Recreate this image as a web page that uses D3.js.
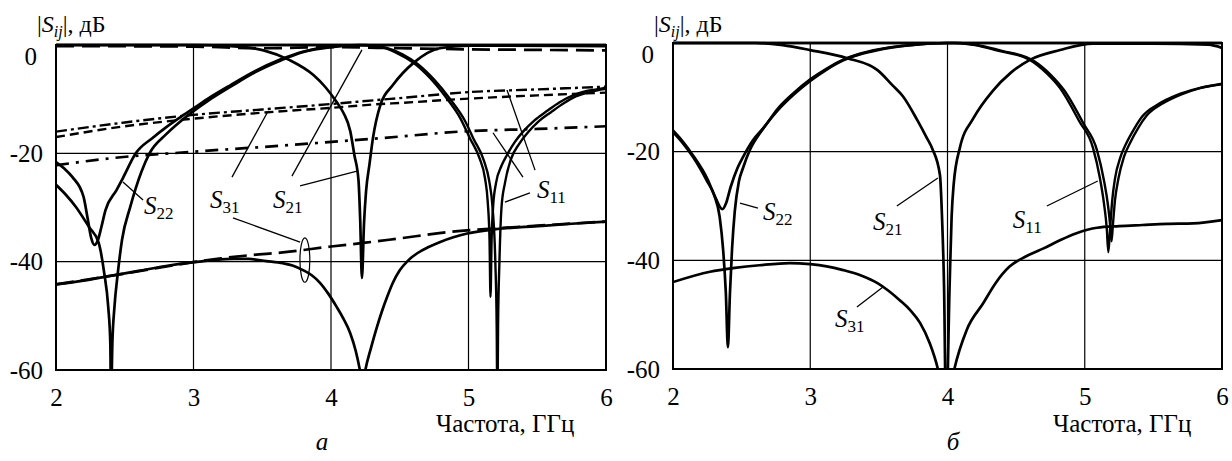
<!DOCTYPE html>
<html>
<head>
<meta charset="utf-8">
<script src="https://cdn.jsdelivr.net/npm/d3@7"></script>
<style>
  body { margin: 0; background: #fff; }
  svg { display: block; }
</style>
</head>
<body>
<svg id="chart" width="1232" height="461"></svg>
<script>
const freqTicks = [2, 3, 4, 5, 6];
const dbTicks = [0, -20, -40, -60];

// panel а — [GHz, dB]
const aS22shallow = [[2.0,-21.6],[2.06,-22.8],[2.12,-24.4],[2.2,-28],[2.23,-32],[2.255,-35.5],[2.28,-36.9],[2.305,-36],[2.33,-33.6],[2.36,-30.5],[2.44,-26.8],[2.49,-24.4],[2.58,-20],[2.7,-17.2],[2.8,-15.2],[2.9,-13.4],[3.0,-11.7],[3.1,-10],[3.27,-7.4],[3.45,-4.8],[3.63,-2.7],[3.8,-1.2],[3.99,-0.3],[4.2,0],[6.0,0]];
const aS22sharp = [[2.0,-25.8],[2.07,-27.6],[2.145,-29.9],[2.24,-33.6],[2.31,-36.5],[2.35,-42],[2.38,-48.4],[2.395,-55],[2.40,-66],[2.41,-55],[2.425,-48.4],[2.45,-42],[2.48,-36],[2.54,-29.9],[2.62,-23.5],[2.68,-20],[2.8,-16.5],[2.9,-14.2],[3.0,-12.2],[3.1,-10.4],[3.27,-7.7],[3.45,-5],[3.63,-2.9],[3.8,-1.3],[4.0,-0.4],[4.25,0],[6.0,0]];
const aS21 = [[2.0,0],[3.0,0],[3.27,-0.2],[3.51,-1.0],[3.70,-2.8],[3.87,-5.5],[3.96,-7.8],[4.04,-10.5],[4.09,-12.5],[4.14,-15.9],[4.17,-20.3],[4.20,-25],[4.212,-32],[4.225,-43],[4.24,-33],[4.255,-27],[4.28,-22],[4.305,-17.2],[4.36,-11],[4.45,-7.4],[4.6,-3.3],[4.79,-0.6],[5.0,-0.1],[6.0,-0.2]];
const aS21dash = [[2.0,-0.2],[3.0,-0.3],[3.5,-0.6],[4.0,-0.4],[4.5,-0.6],[5.0,-0.8],[5.5,-0.9],[6.0,-1.0]];
const aS11one = [[2.0,0],[4.2,0],[4.36,-0.4],[4.48,-1.5],[4.6,-3.3],[4.72,-6.1],[4.84,-9.8],[4.94,-13.5],[5.01,-17.2],[5.08,-20.9],[5.12,-24.6],[5.14,-29],[5.153,-36],[5.16,-46.5],[5.168,-36],[5.18,-29.5],[5.2,-25.5],[5.24,-22.3],[5.28,-20.3],[5.34,-17.8],[5.4,-15.9],[5.48,-13.9],[5.57,-12.2],[5.66,-10.6],[5.76,-9.3],[5.86,-8.5],[5.93,-8.2],[6.0,-7.9]];
const aS11two = [[2.0,0],[4.25,0],[4.4,-0.5],[4.52,-1.7],[4.63,-3.5],[4.75,-6.4],[4.87,-10.1],[4.97,-13.8],[5.04,-17.5],[5.11,-21.2],[5.15,-25],[5.175,-30],[5.195,-40],[5.205,-52],[5.21,-68],[5.215,-52],[5.225,-40],[5.24,-30],[5.265,-25.5],[5.31,-21],[5.37,-18.2],[5.43,-16.2],[5.51,-14.1],[5.6,-12.4],[5.69,-10.8],[5.78,-9.5],[5.88,-8.7],[6.0,-8.1]];
const aMidUpper = [[2.0,-16],[2.5,-14.3],[3.0,-12.9],[3.5,-11.9],[4.0,-10.9],[4.36,-10.1],[4.5,-9.8],[5.0,-8.7],[5.5,-8.2],[6.0,-7.7]];
const aMidLower = [[2.0,-17],[2.5,-15],[3.0,-13.6],[3.5,-12.5],[4.0,-11.6],[4.36,-10.9],[4.5,-10.7],[5.0,-9.9],[5.5,-9.3],[6.0,-8.8]];
const aDashDot = [[2.0,-22.2],[2.4,-20.9],[3.0,-19.7],[3.63,-18.6],[4.36,-17.2],[5.0,-15.9],[5.5,-15.5],[6.0,-15.0]];
const aS31 = [[2.0,-44.2],[2.2,-43.5],[2.4,-42.6],[2.6,-41.7],[2.8,-40.8],[3.0,-40.1],[3.15,-39.7],[3.29,-39.5],[3.4,-39.5],[3.53,-39.9],[3.65,-40.3],[3.72,-40.7],[3.8,-41.6],[3.86,-42.5],[3.92,-43.9],[3.98,-45.9],[4.04,-48.3],[4.09,-50.5],[4.14,-53.2],[4.18,-56.5],[4.21,-60],[4.23,-63],[4.25,-60],[4.29,-56],[4.33,-52.4],[4.37,-49.2],[4.41,-46.4],[4.45,-43.9],[4.5,-41.6],[4.56,-39.8],[4.63,-38.4],[4.71,-37.3],[4.79,-36.4],[4.89,-35.5],[4.99,-34.8],[5.2,-34],[5.47,-33.5],[5.75,-33],[6.0,-32.6]];
const aS31dash = [[2.0,-44.2],[2.5,-42.2],[3.0,-40.1],[3.2,-39.4],[3.41,-38.8],[3.65,-38.3],[4.0,-37.2],[4.25,-36.5],[4.5,-35.7],[4.87,-34.5],[5.23,-33.8],[5.6,-33.2],[6.0,-32.6]];

// panel б
const bS22shallow = [[2.0,-16.1],[2.07,-18.1],[2.146,-20.7],[2.25,-25],[2.31,-28.5],[2.36,-30.6],[2.385,-29.6],[2.42,-26.5],[2.47,-23],[2.51,-21],[2.58,-18],[2.67,-15.3],[2.76,-12.2],[2.88,-9.2],[3.0,-6.7],[3.12,-4.7],[3.24,-3.1],[3.36,-2.0],[3.49,-1.2],[3.73,-0.4],[4.0,0],[6.0,0]];
const bS22sharp = [[2.0,-16.4],[2.07,-18.4],[2.146,-21],[2.25,-25.5],[2.30,-28],[2.34,-32],[2.365,-38],[2.385,-46],[2.40,-56],[2.415,-46],[2.43,-38],[2.45,-31],[2.48,-25.5],[2.51,-23],[2.56,-19.7],[2.65,-16],[2.76,-12.5],[2.88,-9.5],[3.0,-7],[3.12,-4.9],[3.24,-3.2],[3.36,-2.1],[3.49,-1.3],[3.73,-0.4],[4.0,0],[6.0,0]];
const bS21 = [[2.0,0],[2.6,0],[2.8,-0.4],[3.0,-1.3],[3.27,-2.8],[3.49,-5.0],[3.6,-7.8],[3.675,-9.8],[3.78,-14.2],[3.85,-17.5],[3.89,-19.5],[3.945,-24.3],[3.96,-32],[3.975,-45],[3.99,-70],[4.015,-45],[4.03,-32],[4.045,-26],[4.09,-19.3],[4.19,-13.8],[4.33,-8.8],[4.46,-5.5],[4.6,-3.1],[4.82,-1.3],[5.06,-0.1],[5.5,-0.1],[5.9,-0.3],[6.0,-0.9]];
const bS11one = [[2.0,0],[4.05,0],[4.2,-0.4],[4.35,-1.3],[4.6,-3.1],[4.72,-5.5],[4.82,-8.3],[4.96,-14.4],[5.06,-19.3],[5.11,-24.8],[5.14,-29.5],[5.16,-34],[5.172,-38.5],[5.185,-34],[5.2,-29],[5.22,-25],[5.26,-21],[5.3,-18.6],[5.36,-15.8],[5.42,-13.5],[5.54,-11.2],[5.67,-9.6],[5.82,-8.4],[6.0,-7.6]];
const bS11two = [[2.0,0],[4.09,0],[4.24,-0.5],[4.39,-1.4],[4.63,-3.3],[4.75,-5.8],[4.85,-8.7],[4.99,-14.8],[5.09,-19.8],[5.14,-25.3],[5.17,-30],[5.185,-33.5],[5.195,-36.5],[5.205,-33.5],[5.22,-29],[5.245,-25],[5.285,-21],[5.33,-18.4],[5.39,-15.6],[5.45,-13.4],[5.57,-11.1],[5.7,-9.5],[5.84,-8.3],[6.0,-7.5]];
const bS31 = [[2.0,-44],[2.27,-42.1],[2.45,-41.4],[2.63,-40.9],[2.85,-40.5],[3.0,-40.7],[3.12,-41.1],[3.24,-41.8],[3.37,-42.8],[3.49,-44.2],[3.57,-45.6],[3.65,-47.3],[3.73,-49.2],[3.8,-51.5],[3.87,-55.2],[3.93,-60],[3.99,-68],[4.05,-60],[4.14,-52.8],[4.26,-47.9],[4.35,-44.2],[4.45,-41.2],[4.57,-39.3],[4.7,-37.8],[4.82,-36.3],[4.94,-35],[5.09,-34],[5.25,-33.7],[5.42,-33.5],[5.6,-33.3],[5.79,-33.2],[6.0,-32.6]];

const FONT = 'Liberation Serif';
const svg = d3.select('#chart');

const panels = [
  {
    id: 'a', left: 56, right: 606, top: 45, bottom: 370, letter: 'а', letterX: 322,
    series: [
      { data: aMidUpper, dash: '11,4,3,4', w: 2.4 },
      { data: aMidLower, dash: '9,5', w: 2.4 },
      { data: aDashDot, dash: '13,7,3,7', w: 2.7 },
      { data: aS31dash, dash: '18,7', w: 2.7 },
      { data: aS21dash, dash: '18,8', w: 2.7 },
      { data: aS31, w: 2.7 },
      { data: aS22shallow, w: 2.7 },
      { data: aS22sharp, w: 2.7 },
      { data: aS21, w: 2.7 },
      { data: aS11one, w: 2.4 },
      { data: aS11two, w: 2.4 }
    ],
    leaders: [
      [2.487,-25.3, 2.633,-28.6],
      [3.28,-24.4, 3.535,-12.55], [3.287,-31.9, 3.775,-36.4],
      [3.716,-24.2, 4.225,-0.9], [3.775,-26.0, 4.189,-23.3],
      [5.265,-29.0, 5.447,-27.3], [5.178,-16.2, 5.396,-24.4], [5.28,-8.3, 5.484,-23.1]
    ],
    labels: [
      { f: 2.64, db: -31.2, sub: '22' },
      { f: 3.12, db: -30.1, sub: '31' },
      { f: 3.578, db: -30.1, sub: '21' },
      { f: 5.498, db: -28.2, sub: '11' }
    ],
    ellipse: { f: 3.81, db: -39.7, rf: 0.036, rdb: 4.1 }
  },
  {
    id: 'b', left: 673, right: 1222, top: 43, bottom: 369, letter: 'б', letterX: 953,
    series: [
      { data: bS31, w: 2.7 },
      { data: bS22shallow, w: 2.7 },
      { data: bS22sharp, w: 2.7 },
      { data: bS21, w: 2.7 },
      { data: bS11one, w: 2.4 },
      { data: bS11two, w: 2.4 }
    ],
    leaders: [
      [2.488,-29.45, 2.619,-30.4],
      [3.631,-30.0, 3.93,-24.85],
      [4.724,-30.0, 5.095,-25.4],
      [3.34,-48.6, 3.53,-44.9]
    ],
    labels: [
      { f: 2.655, db: -32.6, sub: '22' },
      { f: 3.457, db: -34.4, sub: '21' },
      { f: 4.476, db: -34.0, sub: '11' },
      { f: 3.18, db: -52.3, sub: '31' }
    ]
  }
];

panels.forEach(drawPanel);

function drawPanel(p) {
  const x = d3.scaleLinear().domain([2, 6]).range([p.left, p.right]);
  const y = d3.scaleLinear().domain([-60, 0]).range([p.bottom, p.top]);
  const g = svg.append('g');

  // grid
  g.append('g').selectAll('line')
    .data(freqTicks.slice(1, -1))
    .join('line')
    .attr('x1', d => x(d)).attr('x2', d => x(d))
    .attr('y1', p.top).attr('y2', p.bottom)
    .attr('stroke', '#000').attr('stroke-width', 1.2);
  g.append('g').selectAll('line')
    .data(dbTicks.slice(1, -1))
    .join('line')
    .attr('x1', p.left).attr('x2', p.right)
    .attr('y1', d => y(d)).attr('y2', d => y(d))
    .attr('stroke', '#000').attr('stroke-width', 1.2);

  svg.append('clipPath').attr('id', 'clip-' + p.id)
    .append('rect')
    .attr('x', p.left).attr('y', p.top - 3)
    .attr('width', p.right - p.left).attr('height', p.bottom - p.top + 3);

  const line = d3.line()
    .x(d => x(d[0]))
    .y(d => y(d[1]))
    .curve(d3.curveMonotoneX);

  const curves = g.append('g').attr('clip-path', `url(#clip-${p.id})`);
  p.series.forEach(s => {
    curves.append('path')
      .attr('d', line(s.data))
      .attr('fill', 'none')
      .attr('stroke', '#000')
      .attr('stroke-width', s.w)
      .attr('stroke-linejoin', 'round')
      .attr('stroke-dasharray', s.dash || null);
  });

  // frame
  g.append('rect')
    .attr('x', p.left).attr('y', p.top)
    .attr('width', p.right - p.left).attr('height', p.bottom - p.top)
    .attr('fill', 'none').attr('stroke', '#000').attr('stroke-width', 2);

  // leader lines
  g.append('g').selectAll('line')
    .data(p.leaders)
    .join('line')
    .attr('x1', d => x(d[0])).attr('y1', d => y(d[1]))
    .attr('x2', d => x(d[2])).attr('y2', d => y(d[3]))
    .attr('stroke', '#000').attr('stroke-width', 1.3);

  if (p.ellipse) {
    const e = p.ellipse;
    g.append('ellipse')
      .attr('cx', x(e.f)).attr('cy', y(e.db))
      .attr('rx', x(e.f + e.rf) - x(e.f))
      .attr('ry', y(e.db - e.rdb) - y(e.db))
      .attr('fill', 'none').attr('stroke', '#000').attr('stroke-width', 1.2);
  }

  // S labels
  p.labels.forEach(l => {
    const t = g.append('text')
      .attr('x', x(l.f)).attr('y', y(l.db))
      .attr('font-family', FONT)
      .attr('font-size', 25);
    t.append('tspan').attr('font-style', 'italic').text('S');
    t.append('tspan').attr('font-size', 17).attr('dy', 5).text(l.sub);
  });

  // axes
  const xAxis = g.append('g')
    .attr('transform', `translate(0,${p.bottom})`)
    .call(d3.axisBottom(x).tickValues(freqTicks).tickSize(0).tickPadding(18).tickFormat(d => String(d)));
  xAxis.select('.domain').remove();
  xAxis.attr('font-family', FONT);
  xAxis.selectAll('text').attr('font-family', FONT).attr('font-size', 25).attr('fill', '#000');

  const yAxis = g.append('g')
    .attr('transform', `translate(${p.left},0)`)
    .call(d3.axisLeft(y).tickValues(dbTicks).tickSize(0).tickPadding(13).tickFormat(d => String(d)));
  yAxis.select('.domain').remove();
  yAxis.attr('font-family', FONT);
  yAxis.selectAll('text').attr('font-family', FONT).attr('font-size', 25).attr('fill', '#000');
  yAxis.selectAll('.tick text').filter(d => d === 0).attr('x', -19).attr('y', 11);

  // titles
  const yt = g.append('text')
    .attr('x', p.left - 19).attr('y', 32)
    .attr('font-family', FONT)
    .attr('font-size', 24);
  yt.append('tspan').text('|');
  yt.append('tspan').attr('font-style', 'italic').text('S');
  yt.append('tspan').attr('font-style', 'italic').attr('font-size', 16).attr('dy', 5).text('ij');
  yt.append('tspan').attr('dy', -5).text('|, дБ');

  g.append('text')
    .attr('x', p.left + 380).attr('y', 432)
    .attr('font-family', FONT)
    .attr('font-size', 25)
    .text('Частота, ГГц');

  g.append('text')
    .attr('x', p.letterX).attr('y', 450)
    .attr('text-anchor', 'middle')
    .attr('font-family', FONT)
    .attr('font-size', 25).attr('font-style', 'italic')
    .text(p.letter);
}
</script>
</body>
</html>
